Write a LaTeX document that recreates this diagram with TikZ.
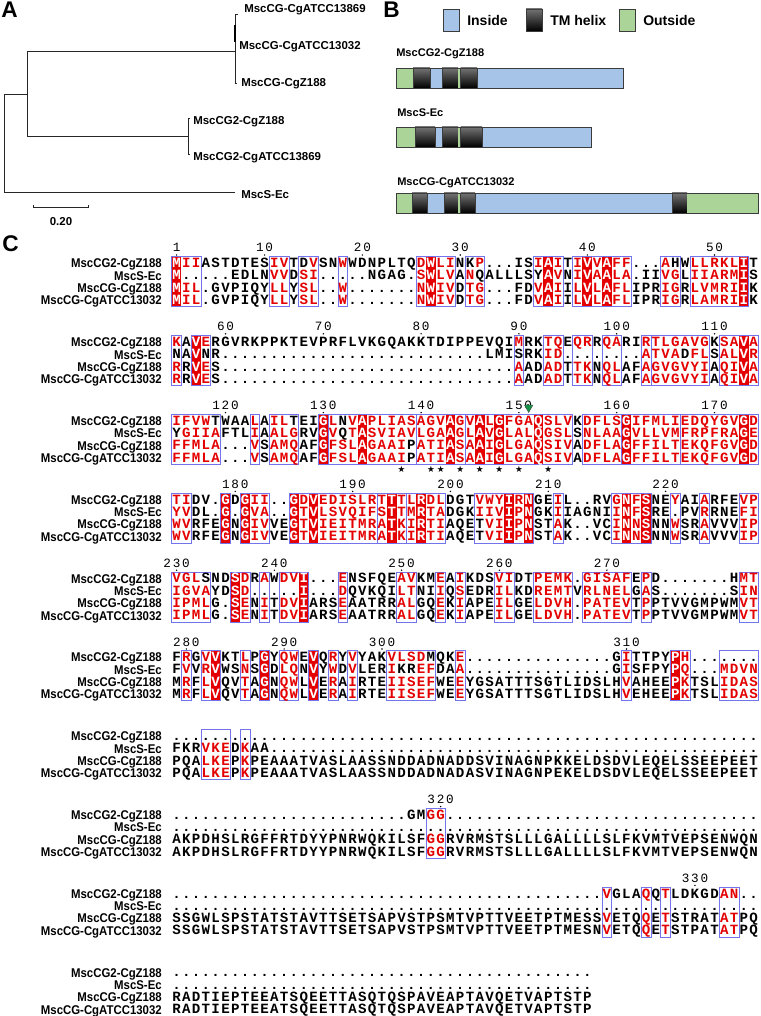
\documentclass[tikz,border=0pt]{standalone}
\usepackage{fontspec}
\usepackage{graphicx}
\setmainfont{Liberation Sans}
\newfontfamily\seqfont{Liberation Mono}
\newfontfamily\numfont[LetterSpace=14]{Liberation Mono}
\newfontfamily\djv{DejaVu Sans}
\definecolor{espred}{RGB}{228,0,0}
\definecolor{espbox}{RGB}{115,115,235}
\definecolor{inblue}{RGB}{166,196,232}
\definecolor{outgreen}{RGB}{170,212,152}
\definecolor{edgegray}{RGB}{60,60,60}
\definecolor{trigreen}{RGB}{20,150,70}
\makeatletter
\newcount\ci \newcount\bstart \newcount\bend
\newif\ifinbox
\def\XZ{176.6}\def\DX{9.78}\def\RS{12.3}
\def\colmask#1{\global\ci=0 \global\inboxfalse
  \foreach \k in {1,...,60}{\expandafter\xdef\csname cm\k\endcsname{0}}%
  \cm@parse#1\@nil}
\def\cm@parse#1{\ifx#1\@nil
    \ifinbox\global\bend=\ci\relax\cm@drawbox\fi
    \global\inboxfalse\let\cm@next\relax
  \else
    \global\advance\ci by 1\relax
    \cm@handle#1\let\cm@next\cm@parse
  \fi\cm@next}
\def\cm@handle#1{%
  \if#1.\relax
    \ifinbox\global\bend=\ci\relax\global\advance\bend by -1\relax\cm@drawbox\fi
    \global\inboxfalse
  \else
    \ifnum`#1<97\relax
      \ifinbox\global\bend=\ci\relax\global\advance\bend by -1\relax\cm@drawbox\fi
      \global\inboxfalse
    \fi
    \ifinbox\else\global\bstart=\ci\relax\global\inboxtrue\fi
    \if#1w\cm@red\fi
    \if#1W\cm@red\fi
  \fi}
\def\cm@red{\expandafter\xdef\csname cm\the\ci\endcsname{1}%
  \fill[espred] ({\XZ+(\the\ci-1.5)*\DX},\boxtop) rectangle ({\XZ+(\the\ci-0.5)*\DX},\boxbot);}
\def\cm@drawbox{\draw[espboxline] ({\XZ+(\the\bstart-1.5)*\DX},\boxtop) rectangle ({\XZ+(\the\bend-0.5)*\DX},\boxbot);}
\def\seqrow#1#2{\def\rowy{#1}\global\ci=0 \sr@parse#2\@nil}
\def\sr@parse#1{\ifx#1\@nil\let\sr@next\relax
  \else\global\advance\ci by 1\relax\sr@cell#1\let\sr@next\sr@parse\fi\sr@next}
\def\sr@cell#1{%
  \ifnum\csname cm\the\ci\endcsname=1 \def\sr@col{white}%
  \else\ifnum`#1>96 \def\sr@col{espred}\else\def\sr@col{black}\fi\fi
  \uppercase{\def\sr@ch{#1}}%
  \node[seqch,text=\sr@col] at ({\XZ+(\the\ci-1)*\DX},\rowy) {\sr@ch};}
\makeatother
\newcommand\lb[1]{\scalebox{0.9}[1]{#1}}
\newcommand\ablock[6]{%
  \pgfmathsetmacro\boxtop{#1-6.8}%
  \pgfmathsetmacro\boxbot{#1+3*\RS+6.3}%
  \colmask{#2}%
  \pgfmathsetmacro\ya{#1+4.1}\seqrow{\ya}{#3}%
  \pgfmathsetmacro\yb{#1+\RS+4.1}\seqrow{\yb}{#4}%
  \pgfmathsetmacro\yc{#1+2*\RS+4.1}\seqrow{\yc}{#5}%
  \pgfmathsetmacro\yd{#1+3*\RS+4.1}\seqrow{\yd}{#6}%
  \pgfmathsetmacro\la{#1+4.4}\pgfmathsetmacro\lbb{#1+\RS+4.4}%
  \pgfmathsetmacro\lc{#1+2*\RS+4.4}\pgfmathsetmacro\ld{#1+3*\RS+4.4}%
  \node[alab] at (162,\la) {\lb{MscCG2-CgZ188}};
  \node[alab] at (162,\lbb) {\lb{MscS-Ec}};
  \node[alab] at (162,\lc) {\lb{MscCG-CgZ188}};
  \node[alab] at (162,\ld) {\lb{MscCG-CgATCC13032}};
}
\newcommand\numrow[2]{\foreach \c/\n in {#2}{%
   \node[numtxt] at ({\XZ+(\c-1)*\DX},#1-11.5) {\n};
   \fill ({\XZ+(\c-1)*\DX},#1-8.5) circle (0.8);}}
\newcommand\dseg[5]{%
 \ifcase#5
   \fill[outgreen] (#1,#3) rectangle (#2,#4);
 \or
   \fill[inblue] (#1,#3) rectangle (#2,#4);
   \draw[segline] (#1,#3) rectangle (#2,#4);
 \or
   \shade[top color=black!55, bottom color=black] (#1,#3) rectangle (#2,#4);
   \draw[segline] (#1,#3) rectangle (#2,#4);
 \fi}
\tikzset{
  seqch/.style={font=\seqfont\bfseries\fontsize{10.6pt}{11pt}\selectfont, inner sep=0pt, anchor=base},
  numtxt/.style={font=\numfont\fontsize{9.5pt}{10pt}\selectfont, inner sep=0pt, anchor=base},
  alab/.style={font=\bfseries\fontsize{9.5pt}{10pt}\selectfont, inner sep=0pt, anchor=base east},
  tlab/.style={font=\bfseries\fontsize{8.6pt}{9pt}\selectfont, inner sep=0pt, anchor=base west},
  dlab/.style={font=\bfseries\fontsize{8.3pt}{9pt}\selectfont, inner sep=0pt, anchor=base west},
  leglab/.style={font=\bfseries\fontsize{10.5pt}{11pt}\selectfont, inner sep=0pt, anchor=base west},
  panel/.style={font=\bfseries\fontsize{17pt}{17pt}\selectfont, inner sep=0pt, anchor=base west},
  treeln/.style={line width=0.75pt, black!85},
  espboxline/.style={draw=espbox, line width=0.6pt},
  segline/.style={draw=edgegray, line width=0.6pt},
  starch/.style={font=\djv\fontsize{6.5pt}{7pt}\selectfont, inner sep=0pt},
}
\begin{document}
\begin{tikzpicture}[x=0.75pt,y=-0.75pt]
\useasboundingbox (0,0) rectangle (760,1016);
\fill[white] (0,0) rectangle (760,1016);
% ---------------- A : tree ----------------
\node[panel] (pA) at (1,18) {A};
\coordinate (root) at (4,95);
\coordinate (n1) at (27,95);
\coordinate (n1t) at (27,52);
\coordinate (n1b) at (27,137);
\coordinate (cg) at (235,52);
\coordinate (cg2) at (188,137);
\coordinate (ec) at (235,193);
\draw[treeln] (root) -- (n1);
\draw[treeln] (root) -- (4,193) -- (ec);
\draw[treeln] (n1t) -- (n1b);
\draw[treeln] (n1t) -- (cg);
\draw[treeln] (n1b) -- (cg2);
\draw[treeln] (190,119) -- (188,119) -- (188,155) -- (190,155);
\draw[treeln] (238,15) -- (235,15) -- (235,84) -- (237,84);
\draw[line width=1.6pt] (235,25) -- (235,42);
\node[tlab] (t1) at (244,12.3) {MscCG-CgATCC13869};
\node[tlab] (t2) at (239,50) {MscCG-CgATCC13032};
\node[tlab] (t3) at (241,87) {MscCG-CgZ188};
\node[tlab] (t4) at (193,125) {MscCG2-CgZ188};
\node[tlab] (t5) at (193,161) {MscCG2-CgATCC13869};
\node[tlab] (t6) at (241,199) {MscS-Ec};
\draw[treeln] (33,205) -- (33,208) -- (88,208) -- (88,205);
\node[font=\bfseries\fontsize{8.6pt}{9pt}\selectfont, inner sep=0pt, anchor=base] (sc) at (61,225) {0.20};
% ---------------- B : domains ----------------
\node[panel] (pB) at (383,18) {B};
\fill[inblue] (443,9) rectangle (459,31); \draw[segline] (443,9) rectangle (459,31);
\node[leglab] (l1) at (467,26) {Inside};
\shade[top color=black!55, bottom color=black] (526,9) rectangle (542,31); \draw[segline] (526,9) rectangle (542,31);
\node[leglab] (l2) at (550,26) {TM helix};
\fill[outgreen] (619,9) rectangle (635,31); \draw[segline] (619,9) rectangle (635,31);
\node[leglab] (l3) at (643,26) {Outside};
\node[dlab] (d1) at (396,57) {MscCG2-CgZ188};
\dseg{396}{413}{68}{88}{0}\dseg{413}{430}{68}{88}{2}\dseg{430}{442}{68}{88}{1}\dseg{442}{458}{68}{88}{2}
\dseg{458}{460.5}{68}{88}{0}\dseg{460.5}{477}{68}{88}{2}\dseg{477}{623}{68}{88}{1}
\draw[segline] (396,68) rectangle (623,88);
\node[dlab] (d2) at (397,117) {MscS-Ec};
\dseg{396}{415}{127}{147}{0}\dseg{415}{435}{127}{147}{2}\dseg{435}{442}{127}{147}{1}\dseg{442}{458}{127}{147}{2}
\dseg{458}{460.5}{127}{147}{0}\dseg{460.5}{482}{127}{147}{2}\dseg{482}{591}{127}{147}{1}
\draw[segline] (396,127) rectangle (591,147);
\node[dlab] (d3) at (397,186) {MscCG-CgATCC13032};
\dseg{396}{412}{193}{213}{0}\dseg{412}{427}{193}{213}{2}\dseg{427}{444}{193}{213}{1}\dseg{444}{458}{193}{213}{2}
\dseg{458}{460.5}{193}{213}{0}\dseg{460.5}{475}{193}{213}{2}\dseg{475}{672}{193}{213}{1}\dseg{672}{687}{193}{213}{2}
\dseg{687}{758}{193}{213}{0}
\draw[segline] (396,193) rectangle (758,213);
% ---------------- C : alignment ----------------
\node[panel] (pC) at (2,251) {C};
% block 1
\numrow{263.5}{1/1,10/10,20/20,30/30,43/40,56/50}
\ablock{263.5}{wbb....... bb.bb..b.. .....bwbb. bb.....bwb .bwbwbb... bb.bbbbbw.}
{MiiASTDTES ivTDvSNwWD NPLTQdWliN Kp...ISiAi TiVvAff... aHWllrklIT}
{M.....EDLN vvDsi..... NGAG.sWlvA nQALLLSYAv NiVaAla.II vgLiiarmIS}
{Mil.GVPIQY llYsl..w.. .....nWivD tg...FDvAi IlVlAflIPR igRlvmriIK}
{Mil.GVPIQY llYsl..w.. .....nWivD tg...FDvAi IlVlAflIPR igRlamriIK}
% block 2
\numrow{342.3}{6/60,16/70,26/80,36/90,46/100,56/110}
\ablock{342.3}{b.wb...... .......... .......... .....b..bb .bb.bb..bB bbbbb.bbwb}
{kAVeRGVRKP PKTEVPRFLV KGQAKKTDIP PEVQImRKtq EqrRqaRIrt lgavgKsaVa}
{NAVNR..... .......... .......... ..LMISRKid ........at vaDflSalVr}
{rRVeS..... .......... .......... .....aADad TtkNqlAFag vgvyiAqiVa}
{rRVeS..... .......... .......... .....aADad TtkNqlAFag vgvyiAqiVa}
% block 3
\numrow{421.1}{6/120,16/130,26/140,36/150,46/160,56/170}
\ablock{421.1}{bbbbb...b. bbb..wBbbw bbbbbBbbwb Bwbwbbbwbb b.bbbbWbbb bbBbbbbbwb}
{ifvwTWAAlA ilTEIGlNvA pliasagvAg vAlGfgaQsl vKdflsGifm liedqygvGd}
{YgiiaFTLiA algRVGvQtA sviavlgaAg lAvGlalQgs lSnlaaGvll vmfrpfraGe}
{ffmla...vS amqAFGfslA gaaiPatiAs aAiGlgaQsi vAdflaGffi ltekqfgvGd}
{ffmla...vS amqAFGfslA gaaiPatiAs aAiGlgaQsi vAdflaGffi ltekqfgvGd}
\fill[trigreen,draw=black!70,line width=0.3pt] ({\XZ+36*\DX-4.3},405) -- ({\XZ+36*\DX+4.3},405) -- ({\XZ+36*\DX},412.5) -- cycle;
\foreach \c in {24,27,28,30,32,34,36,39} \node[starch] at ({\XZ+(\c-1)*\DX},469) {★};
% block 4
\numrow{499.9}{7/180,19/190,29/200,39/210,51/220}
\ablock{499.9}{bb...w.wbb ..wbwbbbbb bBwbBwbb.. .bbbwbw..b .....bwbw. .b..b...bb}
{tiDV.GDGii ..GdVedisl rtTtlRdlDG TvwyIrNGEi L..RVgNfSN EyAIaRFEvp}
{yvDL.G.Gva ..Gtvlsvqi fsTtmRtaDG KiivIpNGKi IAGNIiNfSR E.PVrRNEfi}
{wvRFEGNGiv VEGtvieitm raTkiRtiAQ ETviIpNSTa K..VCiNnSN NwSRaVVVip}
{wvRFEGNGiv VEGtvieitm raTkiRtiAQ ETviIpNSTa K..VCiNnSN NwSRaVVVip}
% block 5
\numrow{578.7}{1/230,11/240,24/250,34/260,45/270}
\ablock{578.7}{bbbb..wb.b .bbw...b.. ...bb..b.b ...bb..bbb b.bbbbb.b. ........bb}
{vglSNDSdRa WdvI...eNS FQEavKMeAi KDSviDTpem k.gisafEpD .......Hmt}
{igvaYDSd.. ...I...dQV KQIltNIiQs EDRilKDrem tVrlnelGaS .......Sin}
{ipmlG.SeNi TdvIARSeAA TRRalGQeKi APEilGEldv h.patevTpP TVVGMPWMvt}
{ipmlG.SeNi TdvIARSeAA TRRalGQeKi APEilGEldv h.patevTpP TVVGMPWMvt}
% block 6
\numrow{657.5}{2/280,12/290,22/300,47/310}
\ablock{657.5}{.b.bw..b.w .bb.w.b.b. ..bbbbb..b .......... ......b... .wb...bbbb}
{FrGvVKTlPG YqwEVQrYvY AKvlsdMQKe .......... .....GiTTP YPh.......}
{FvVrVWSnSG DlqNVYwDvL ERiKRefDAa .......... .....GiSFP YPq...mdvn}
{MrFlVQVtAG NqwLVErAiR TEiisefWEe YGSATTTSGT LIDSLHvAHE EPkTSLidas}
{MrFlVQVtAG NqwLVErAiR TEiisefWEe YGSATTTSGT LIDSLHvEHE EPkTSLidas}
% block 7
\ablock{736.3}{...bbb.b.. .......... .......... .......... .......... ..........}
{.......... .......... .......... .......... .......... ..........}
{FKRvkeDkAA .......... .......... .......... .......... ..........}
{PQAlkePkPE AAATVASLAA SSNDDADNAD DSVINAGNPK KELDSDVLEQ ELSSEEPEET}
{PQAlkePkPE AAATVASLAA SSNDDADNAD ASVINAGNPE KELDSDVLEQ ELSSEEPEET}
% block 8
\numrow{815.1}{28/320}
\ablock{815.1}{.......... .......... ......bb.. .......... .......... ..........}
{.......... .......... ....GMgg.. .......... .......... ..........}
{.......... .......... .......... .......... .......... ..........}
{AKPDHSLRGF FRTDYYPNRW QKILSFggRV RMSTSLLLGA LLLLSLFKVM TVEPSENWQN}
{AKPDHSLRGF FRTDYYPNRW QKILSFggRV RMSTSLLLGA LLLLSLFKVM TVEPSENWQN}
% block 9
\numrow{893.9}{54/330}
\ablock{893.9}{.......... .......... .......... .......... ....b...b. b.....bb..}
{.......... .......... .......... .......... ....vGLAqQ tLDKGDan..}
{.......... .......... .......... .......... .......... ..........}
{SSGWLSPSTA TSTAVTTSET SAPVSTPSMT VPTTVEETPT MESSvETQqE tSTRATatPQ}
{SSGWLSPSTA TSTAVTTSET SAPVSTPSMT VPTTVEETPT MESNvETQqE tSTPATatPQ}
% block 10
\ablock{972.7}{.......... .......... .......... .......... .......... ..........}
{.......... .......... .......... .......... ...}
{.......... .......... .......... .......... ...}
{RADTIEPTEE ATSQEETTAS QTQSPAVEAP TAVQETVAPT STP}
{RADTIEPTEE ATSQEETTAS QTQSPAVEAP TAVQETVAPT STP}
\end{tikzpicture}
\end{document}
